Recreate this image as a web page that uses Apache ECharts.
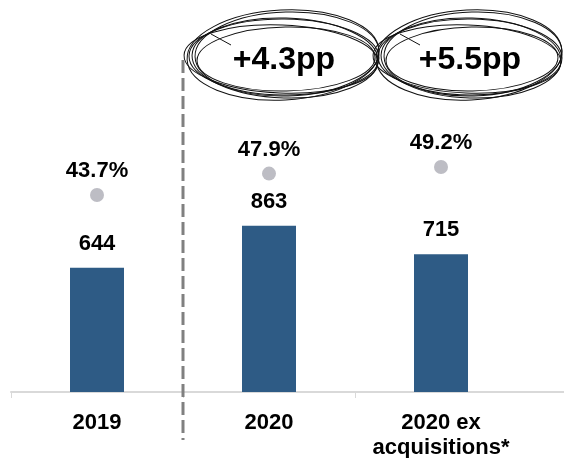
<!DOCTYPE html>
<html>
<head>
<meta charset="utf-8">
<script src="https://cdn.jsdelivr.net/npm/echarts@6/dist/echarts.min.js"></script>
<style>html,body{margin:0;padding:0;background:#fff}#c{width:564px;height:458px}</style>
</head>
<body>
<div id="c"></div>
<script>
const categories = ['2019', '2020', '2020 ex\nacquisitions*'];
const values = [644, 863, 715];
const margins = [43.7, 47.9, 49.2];
const deltas = ['+4.3pp', '+5.5pp'];

const chart = echarts.init(document.getElementById('c'), null, {renderer: 'canvas'});
const FONT = '"Liberation Sans", Arial, sans-serif';
const cats = categories.concat(['']);

function scribble(cx, cy, rx, ry, text) {
  const variants = [
    [0, 0, 0, 0, -0.01],
    [3, -3, -3, 4, 0.03],
    [-3, 2, 2, -4, -0.04],
    [2, 2, -6, -6, 0.02],
    [-1, -2, 1, 7, 0.05],
    [1, 1, -2, 2, -0.03]
  ];
  const els = variants.map(v => ({
    type: 'ellipse',
    shape: {cx: 0, cy: 0, rx: rx + v[2], ry: ry + v[3]},
    x: cx + v[0], y: cy + v[1], rotation: v[4],
    style: {fill: null, stroke: '#111', lineWidth: 1},
    silent: true
  }));
  els.push({
    type: 'line',
    shape: {x1: cx - rx + 22, y1: cy - ry + 15, x2: cx - rx + 42, y2: cy - ry + 26},
    style: {stroke: '#111', lineWidth: 1}, silent: true
  });
  els.push({
    type: 'text', x: cx, y: cy + 3,
    style: {text: text, font: 'bold 32px ' + FONT, fill: '#000', align: 'center', verticalAlign: 'middle'},
    silent: true
  });
  return els;
}

chart.setOption({
  animation: false,
  grid: {left: 11, width: 688, top: 45, bottom: 66, outerBoundsMode: 'none', containLabel: false},
  xAxis: {
    type: 'category',
    data: cats,
    axisLine: {lineStyle: {color: '#D9D9D9', width: 2}},
    axisTick: {show: true, length: 6, lineStyle: {color: '#D9D9D9', width: 1}, interval: function (i) { return i < 3; }},
    axisLabel: {
      color: '#000', fontWeight: 'bold', fontSize: 22, fontFamily: FONT,
      margin: 18, lineHeight: 25, interval: 0
    }
  },
  yAxis: [
    {type: 'value', min: 0, max: 1800, show: false, splitLine: {show: false}},
    {type: 'value', min: 5, max: 73.16, show: false, splitLine: {show: false}}
  ],
  series: [
    {
      type: 'bar', data: values, barWidth: 54, yAxisIndex: 0,
      itemStyle: {color: '#2E5B85'},
      label: {show: true, position: 'top', distance: 13, color: '#000', fontWeight: 'bold', fontSize: 22, fontFamily: FONT}
    },
    {
      type: 'scatter', data: margins, yAxisIndex: 1, symbolSize: 14,
      itemStyle: {color: '#BDBDC4', opacity: 1},
      label: {show: true, position: 'top', distance: 6, color: '#000', fontWeight: 'bold', fontSize: 22, fontFamily: FONT,
        formatter: p => p.value.toFixed(1) + '%'}
    }
  ],
  graphic: [
    {
      type: 'line', shape: {x1: 183, y1: 60, x2: 183, y2: 440},
      style: {stroke: '#808080', lineWidth: 3, lineDash: [13, 5]}, silent: true, z: 10
    }
  ].concat(scribble(284, 57, 95, 38, deltas[0])).concat(scribble(470, 57, 92, 38, deltas[1]))
});
</script>
</body>
</html>
